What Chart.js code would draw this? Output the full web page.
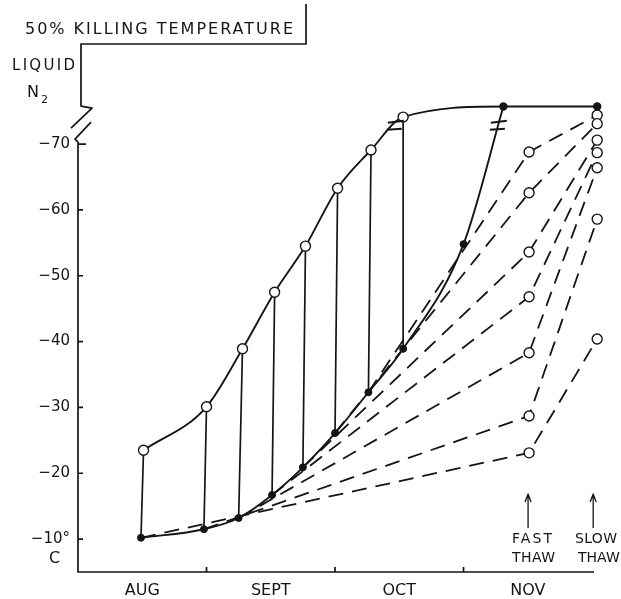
<!DOCTYPE html>
<html>
<head>
<meta charset="utf-8">
<script src="https://cdn.jsdelivr.net/npm/chart.js@4"></script>
<style>
body { margin: 0; background: #fff; }
#wrap { width: 621px; height: 599px; }
</style>
</head>
<body>
<div id="wrap"><canvas id="chart"></canvas></div>
<script>
// x axis in months: 0 = 1 Aug, 1 = 1 Sept, 2 = 1 Oct, 3 = 1 Nov
const monthLabels = ['AUG', 'SEPT', 'OCT', 'NOV'];
const monthTicks = [0.5, 1.5, 2.5, 3.5];
const yTicks = [-70, -60, -50, -40, -30, -20, -10];
const liquidN2 = -75.7;

// upper curve, open circles (last two filled = liquid N2)
const upperX = [0.51, 1.00, 1.28, 1.53, 1.77, 2.02, 2.28, 2.53, 3.31, 4.04];
const upperY = [-23.5, -30.1, -38.9, -47.5, -54.5, -63.3, -69.1, -74.1, liquidN2, liquidN2];

// lower curve, filled dots
const lowerX = [0.49, 0.98, 1.25, 1.51, 1.75, 2.00, 2.26, 2.53, 3.00, 3.31];
const lowerY = [-10.2, -11.5, -13.2, -16.7, -20.9, -26.1, -32.3, -38.9, -54.8, liquidN2];

// dashed lines: lower curve point -> fast thaw -> slow thaw
const fastX = 3.51;
const slowX = 4.04;
const fastY = [-23.1, -28.7, -38.3, -46.8, -53.6, -62.6, -68.8];
const slowY = [-40.4, -58.6, -66.4, -68.7, -70.6, -73.1, -74.4];

const ink = '#151515';
const font = 'DejaVu Sans';

const datasets = [];

// upper curve
datasets.push({
    data: upperX.map((x, i) => ({ x: x, y: upperY[i] })),
    showLine: true,
    borderColor: ink,
    borderWidth: 1.9,
    cubicInterpolationMode: 'monotone',
    pointRadius: upperX.map((x, i) => i < 8 ? 5 : 3.5),
    pointBackgroundColor: upperX.map((x, i) => i < 8 ? '#fff' : ink),
    pointBorderColor: ink,
    pointBorderWidth: 1.4
});

// lower curve
datasets.push({
    data: lowerX.map((x, i) => ({ x: x, y: lowerY[i] })),
    showLine: true,
    borderColor: ink,
    borderWidth: 1.9,
    cubicInterpolationMode: 'monotone',
    pointRadius: lowerX.map((x, i) => i < 9 ? 3.5 : 0),
    pointBackgroundColor: ink,
    pointBorderColor: ink,
    pointBorderWidth: 1
});

// fast / slow thaw dashed lines
fastY.forEach((fy, i) => {
    datasets.push({
        data: [{ x: lowerX[i], y: lowerY[i] }, { x: fastX, y: fy }, { x: slowX, y: slowY[i] }],
        showLine: true,
        borderColor: ink,
        borderWidth: 1.8,
        borderDash: [15, 9],
        pointRadius: [0, 5, 5],
        pointBackgroundColor: '#fff',
        pointBorderColor: ink,
        pointBorderWidth: 1.4
    });
});

// vertical lines between the two curves
const drops = [];
for (let i = 0; i < 8; i++) {
    drops.push({ x: upperX[i], y: upperY[i] });
    drops.push({ x: lowerX[i], y: lowerY[i] });
    drops.push({ x: lowerX[i], y: null });
}
datasets.push({
    data: drops,
    showLine: true,
    spanGaps: false,
    borderColor: ink,
    borderWidth: 1.7,
    pointRadius: 0
});

function spacedText(ctx, text, x, y, width) {
    ctx.letterSpacing = '0px';
    const w = ctx.measureText(text).width;
    const ls = width ? Math.max(0, (width - w) / (text.length - 1)) : 0;
    ctx.letterSpacing = ls + 'px';
    ctx.fillText(text, x, y);
    ctx.letterSpacing = '0px';
}

// axes with the break, labels and break marks
const decor = {
    id: 'decor',
    afterDraw(chart) {
        const ctx = chart.ctx;
        const xs = chart.scales.x, ys = chart.scales.y;
        const L = chart.chartArea.left, B = chart.chartArea.bottom, T = chart.chartArea.top;
        const y70 = ys.getPixelForValue(-70);
        ctx.save();
        ctx.strokeStyle = ink;
        ctx.fillStyle = ink;
        ctx.lineWidth = 1.7;
        ctx.lineJoin = 'round';

        ctx.beginPath();
        ctx.moveTo(306, 4);
        ctx.lineTo(306, T);
        ctx.lineTo(L + 3, T);
        ctx.lineTo(L + 3, y70 - 38);
        ctx.lineTo(L + 14, y70 - 36);
        ctx.lineTo(L - 7, y70 - 16);
        ctx.moveTo(L + 13, y70 - 22);
        ctx.lineTo(L - 3, y70 - 5);
        ctx.lineTo(L, y70 - 2);
        ctx.lineTo(L, B);
        ctx.lineTo(594, B);
        ctx.stroke();

        // y ticks
        ctx.beginPath();
        yTicks.forEach(v => {
            const py = ys.getPixelForValue(v);
            ctx.moveTo(L, py);
            ctx.lineTo(L + (v === -70 ? 8 : 5), py);
        });
        // month boundaries
        [1, 2, 3].forEach(v => {
            const px = xs.getPixelForValue(v);
            ctx.moveTo(px, B);
            ctx.lineTo(px, B - 5);
        });
        ctx.stroke();

        // break marks on the two curves
        const brk = [
            [upperX[6], upperY[6], upperX[7], upperY[7]],
            [lowerX[8], lowerY[8], lowerX[9], lowerY[9]]
        ];
        ctx.lineWidth = 2;
        brk.forEach(b => {
            const x1 = xs.getPixelForValue(b[0]), y1 = ys.getPixelForValue(b[1]);
            const x2 = xs.getPixelForValue(b[2]), y2 = ys.getPixelForValue(b[3]);
            const cy = ys.getPixelForValue(-72.8);
            const cx = x1 + (cy - y1) / (y2 - y1) * (x2 - x1) + 1;
            ctx.beginPath();
            ctx.moveTo(cx - 8, cy - 3);
            ctx.lineTo(cx + 8, cy - 5);
            ctx.moveTo(cx - 9, cy + 4);
            ctx.lineTo(cx + 6, cy + 3);
            ctx.stroke();
        });

        // arrows for fast / slow thaw
        ctx.lineWidth = 1.3;
        [xs.getPixelForValue(fastX) - 1, xs.getPixelForValue(slowX) - 4].forEach(ax => {
            ctx.beginPath();
            ctx.moveTo(ax, 528);
            ctx.lineTo(ax, 494);
            ctx.moveTo(ax - 3, 502);
            ctx.lineTo(ax, 494);
            ctx.lineTo(ax + 3, 502);
            ctx.stroke();
        });

        ctx.textBaseline = 'middle';
        ctx.textAlign = 'left';
        ctx.font = '16px "' + font + '"';
        spacedText(ctx, '50% KILLING TEMPERATURE', 25, 30, 268);
        ctx.font = '15px "' + font + '"';
        spacedText(ctx, 'LIQUID', 12, 66, 63);
        ctx.font = '16px "' + font + '"';
        ctx.fillText('N', 27, 93);
        ctx.font = '11px "' + font + '"';
        ctx.fillText('2', 41, 100);
        ctx.font = '16px "' + font + '"';
        ctx.fillText('C', 49, 559);

        ctx.font = '14px "' + font + '"';
        spacedText(ctx, 'FAST', 512, 539, 40);
        spacedText(ctx, 'THAW', 512, 558, 43);
        spacedText(ctx, 'SLOW', 575, 539, 42);
        spacedText(ctx, 'THAW', 578, 558, 40);
        ctx.restore();
    }
};

new Chart(document.getElementById('chart'), {
    type: 'scatter',
    data: { datasets: datasets },
    options: {
        responsive: true,
        maintainAspectRatio: false,
        animation: false,
        layout: { padding: { top: 44, right: 17, left: 0, bottom: 0 } },
        plugins: { legend: { display: false }, tooltip: { enabled: false } },
        scales: {
            x: {
                type: 'linear',
                min: 0,
                max: 4.093,
                grid: { display: false, drawTicks: false },
                border: { display: false },
                afterFit: s => { s.height = 27; },
                afterBuildTicks: s => { s.ticks = monthTicks.map(v => ({ value: v })); },
                ticks: {
                    autoSkip: false,
                    maxRotation: 0,
                    padding: 9,
                    color: ink,
                    font: { family: font, size: 16 },
                    callback: v => monthLabels[Math.floor(v)]
                }
            },
            y: {
                type: 'linear',
                reverse: true,
                min: -85.2,
                max: -5,
                grid: { display: false, drawTicks: false },
                border: { display: false },
                afterFit: s => { s.width = 78; },
                afterBuildTicks: s => { s.ticks = yTicks.map(v => ({ value: v })); },
                ticks: {
                    padding: 8,
                    color: ink,
                    font: { family: font, size: 15 },
                    callback: v => v === -10 ? '\u221210\u00b0' : '\u2212' + Math.abs(v)
                }
            }
        }
    },
    plugins: [decor]
});
</script>
</body>
</html>
